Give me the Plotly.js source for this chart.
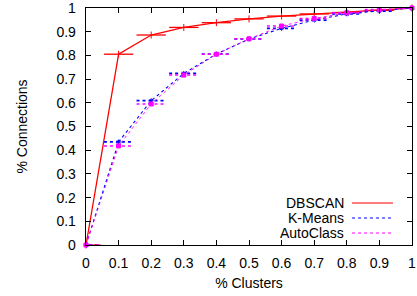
<!DOCTYPE html>
<html><head><meta charset="utf-8">
<script src="https://cdn.plot.ly/plotly-3.0.1.min.js"></script>
<style>html,body{margin:0;padding:0;background:#fff;}#chart{width:417px;height:296px;}</style>
</head><body><div id="chart"></div>
<script>
var clusters = [0, 0.1, 0.2, 0.3, 0.4, 0.5, 0.6, 0.7, 0.8, 0.9, 1.0];
var dbscan   = [0, 0.805, 0.886, 0.918, 0.938, 0.954, 0.966, 0.975, 0.981, 0.99, 1.0];
var kmeans   = [0, 0.435, 0.609, 0.724, 0.806, 0.869, 0.914, 0.949, 0.975, 0.987, 1.0];
var autoclass= [0, 0.418, 0.595, 0.717, 0.805, 0.870, 0.924, 0.956, 0.980, 0.993, 1.0];
var xerr = [0.045, 0.045, 0.045, 0.045, 0.045, 0.045, 0.045, 0.045, 0.045, 0.045, 0.045];
var names = ["DBSCAN", "K-Means", "AutoClass"];
var tickVals = [0, 0.1, 0.2, 0.3, 0.4, 0.5, 0.6, 0.7, 0.8, 0.9, 1];
var tickText = ["0", "0.1", "0.2", "0.3", "0.4", "0.5", "0.6", "0.7", "0.8", "0.9", "1"];

function errSegs(xs, ys, es) {
  var ex = [], ey = [];
  for (var i = 0; i < xs.length; i++) {
    ex.push(xs[i] - es[i], xs[i] + es[i], null);
    ey.push(ys[i], ys[i], null);
  }
  return {x: ex, y: ey};
}
var FONT = "Liberation Sans, Arial, sans-serif";
var series = [
  {y: dbscan, color: "#ff0000", dash: "solid", width: 1.3, sym: "line-ns", msize: 5},
  {y: kmeans, color: "#0000ff", dash: "dot", width: 1.1, sym: "asterisk", msize: 4},
  {y: autoclass, color: "#ff00ff", dash: "dot", width: 0.9, sym: "square", msize: 4}
];
var traces = [];
series.forEach(function (s, k) {
  var e = errSegs(clusters, s.y, xerr);
  traces.push({x: e.x, y: e.y, mode: "lines", type: "scatter", showlegend: false, hoverinfo: "skip",
    line: {color: s.color, width: k === 0 ? 1.3 : 1.6, dash: s.dash}, cliponaxis: false});
  traces.push({x: clusters, y: s.y, mode: "lines+markers", type: "scatter", name: names[k], showlegend: false,
    line: {color: s.color, width: s.width, dash: s.dash},
    marker: {color: s.color, symbol: s.sym, size: s.msize, line: {color: s.color, width: 1}}, cliponaxis: false});
});

var ann = [], shapes = [];
var legY = [203, 218, 233];
var legDash = ["solid", "dot", "dot"];
var legCol = ["#ff0000", "#0000ff", "#ff00ff"];
for (var i = 0; i < names.length; i++) {
  var py = 1 - (legY[i] - 8) / 237;
  ann.push({xref: "paper", yref: "paper", x: (346 - 86) / 326, y: py, text: names[i], showarrow: false,
    xanchor: "right", yanchor: "middle", font: {family: FONT, size: 14, color: "#000"}});
  shapes.push({type: "line", xref: "paper", yref: "paper", x0: (352 - 86) / 326, x1: (393 - 86) / 326, y0: py, y1: py,
    line: {color: legCol[i], width: 1.2, dash: legDash[i]}});
}

var axisCommon = {
  range: [0, 1], tickvals: tickVals, ticktext: tickText, ticks: "inside", ticklen: 5, tickwidth: 1, tickcolor: "#000",
  showline: true, linecolor: "#000", linewidth: 1.3, mirror: "ticks", showgrid: false, zeroline: false,
  ticklabeloverflow: "allow",
  tickfont: {family: FONT, size: 14, color: "#000"}
};
var layout = {
  width: 417, height: 296, margin: {l: 86, r: 5, t: 8, b: 51},
  paper_bgcolor: "#fff", plot_bgcolor: "#fff", showlegend: false,
  xaxis: Object.assign({}, axisCommon, {ticklabelstandoff: 5, title: {text: "% Clusters", standoff: 8,
    font: {family: FONT, size: 14, color: "#000"}}}),
  yaxis: Object.assign({}, axisCommon, {ticklabelstandoff: 6, title: {text: "% Connections", standoff: 25,
    font: {family: FONT, size: 14, color: "#000"}}}),
  annotations: ann, shapes: shapes
};
Plotly.newPlot("chart", traces, layout, {staticPlot: true});
</script></body></html>
